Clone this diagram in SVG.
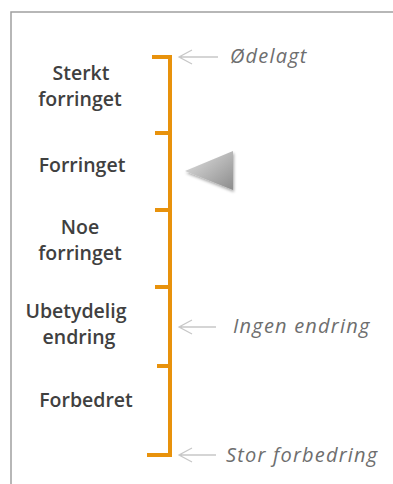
<svg xmlns="http://www.w3.org/2000/svg" width="393" height="484" viewBox="0 0 393 484">
<defs>
<style>
.lbl{font-family:"Open Sans","DejaVu Sans",sans-serif;font-size:19.5px;font-weight:600;fill:#404040;text-anchor:middle}
.it{font-family:"Open Sans","DejaVu Sans",sans-serif;font-size:20px;font-style:italic;letter-spacing:1.2px;fill:#6e6e6e}
.bar{stroke:#e8920c;stroke-width:4;fill:none}
.ptr{stroke:#c8c8c8;stroke-width:1.3;fill:none}
</style>
<linearGradient id="tg" x1="0" y1="0" x2="1" y2="1">
<stop offset="0" stop-color="#e4e4e4"/>
<stop offset="1" stop-color="#8c8c8c"/>
</linearGradient>
<filter id="sh" x="-30%" y="-30%" width="160%" height="160%">
<feGaussianBlur in="SourceAlpha" stdDeviation="1.5"/>
<feOffset dx="1" dy="2"/>
<feComponentTransfer><feFuncA type="linear" slope="0.35"/></feComponentTransfer>
<feMerge><feMergeNode/><feMergeNode in="SourceGraphic"/></feMerge>
</filter>
</defs>
<rect width="393" height="484" fill="#fff"/>
<path d="M11 484 V12 H393" fill="none" stroke="#a0a0a0" stroke-width="1.5"/>
<g id="scale">
<path class="bar" d="M152 57 H170 V455 H147"/>
<path class="bar" d="M155 133 H168 M155 210 H168 M155 287 H168 M157 366 H168"/>
</g>
<g id="connectors">
<path class="ptr" d="M179 57 H218 M192 50 L179 57 L192 64"/>
<path class="ptr" d="M179 327 H216 M192 320 L179 327 L192 334"/>
<path class="ptr" d="M179 455 H216 M192 448 L179 455 L192 462"/>
</g>
<g id="sterkt"><text class="lbl" x="81" y="80">Sterkt</text><text class="lbl" x="80" y="106">forringet</text></g>
<g id="forringet"><text class="lbl" x="82" y="172">Forringet</text></g>
<g id="noe"><text class="lbl" x="80" y="234">Noe</text><text class="lbl" x="80" y="260">forringet</text></g>
<g id="ubetydelig"><text class="lbl" x="76" y="318">Ubetydelig</text><text class="lbl" x="79" y="344">endring</text></g>
<g id="forbedret"><text class="lbl" x="86" y="407">Forbedret</text></g>
<g id="odelagt"><text class="it" x="230" y="63">Ødelagt</text></g>
<g id="ingen"><text class="it" x="233" y="333">Ingen endring</text></g>
<g id="stor"><text class="it" x="226" y="462">Stor forbedring</text></g>
<g id="pointer"><polygon points="185,171 233,151 233,190" fill="url(#tg)" filter="url(#sh)"/></g>
</svg>
